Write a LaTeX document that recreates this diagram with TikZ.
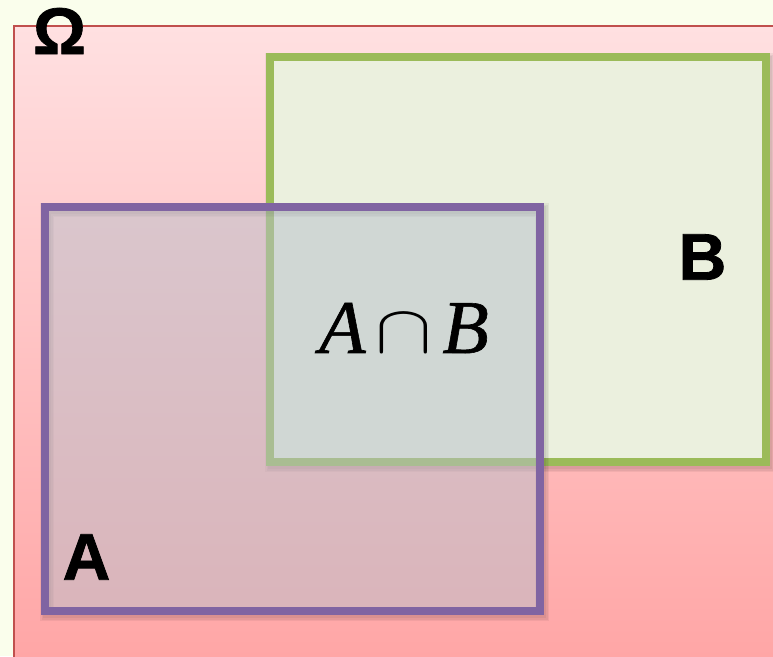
\documentclass[tikz,border=0pt]{standalone}
\usepackage{fix-cm}
\usepackage{fontspec}
\newfontfamily\setfont[FakeBold=1.2]{Liberation Sans Bold}
\newfontfamily\eventfont[FakeBold=0.8]{Liberation Serif Italic}
\usetikzlibrary{positioning}

\definecolor{paper}{RGB}{250,254,236}
\definecolor{omegared}{RGB}{192,80,77}
\definecolor{omegatop}{RGB}{255,224,225}
\definecolor{omegabot}{RGB}{255,163,163}
\definecolor{setgreen}{RGB}{155,187,89}
\definecolor{greenfill}{RGB}{235,240,222}
\definecolor{setpurple}{RGB}{128,100,162}
\definecolor{purplefill}{RGB}{183,191,203}

\begin{document}
\begin{tikzpicture}[x=1pt,y=-1pt,
  setbox/.style={draw, line width=8pt, inner sep=0pt},
  setname/.style={inner sep=0pt, font=\setfont\fontsize{66}{66}\selectfont},
  soft/.style={draw=black, line width=#1, draw opacity=0.05}]
\path[use as bounding box, fill=paper] (0,0) rectangle (773,656);
\clip (0,0) rectangle (773,656);
% sample space
\draw[omegared, line width=2pt, top color=omegatop, bottom color=omegabot]
  (14,26) rectangle (800,690);
\node[setname] (omega) at (59.5,31) {Ω};
% set B
\foreach \w in {14pt,11pt,8pt}
  \draw[soft=\w] (272,60) rectangle (768,465);
\node[setbox, draw=setgreen, fill=greenfill, minimum width=496pt,
  minimum height=405pt] (B) at (518,259.5) {};
\node[setname] (nameB) at (702.5,257) {B};
% set A
\foreach \w in {14pt,11pt,8pt}
  \draw[soft=\w] (47,210) rectangle (542,614);
\node[setbox, draw=setpurple, fill=purplefill, fill opacity=0.5,
  minimum width=495pt, minimum height=404pt] (A) at (292.5,409) {};
\node[setname] (nameA) at (86.5,557) {A};
% intersection
\node[inner sep=0pt, font=\eventfont\fontsize{76}{76}\selectfont] (AB)
  at (404,328) {A\kern10pt\scalebox{1.12}[0.9]{$\cap$}\kern10pt B};
\end{tikzpicture}
\end{document}
